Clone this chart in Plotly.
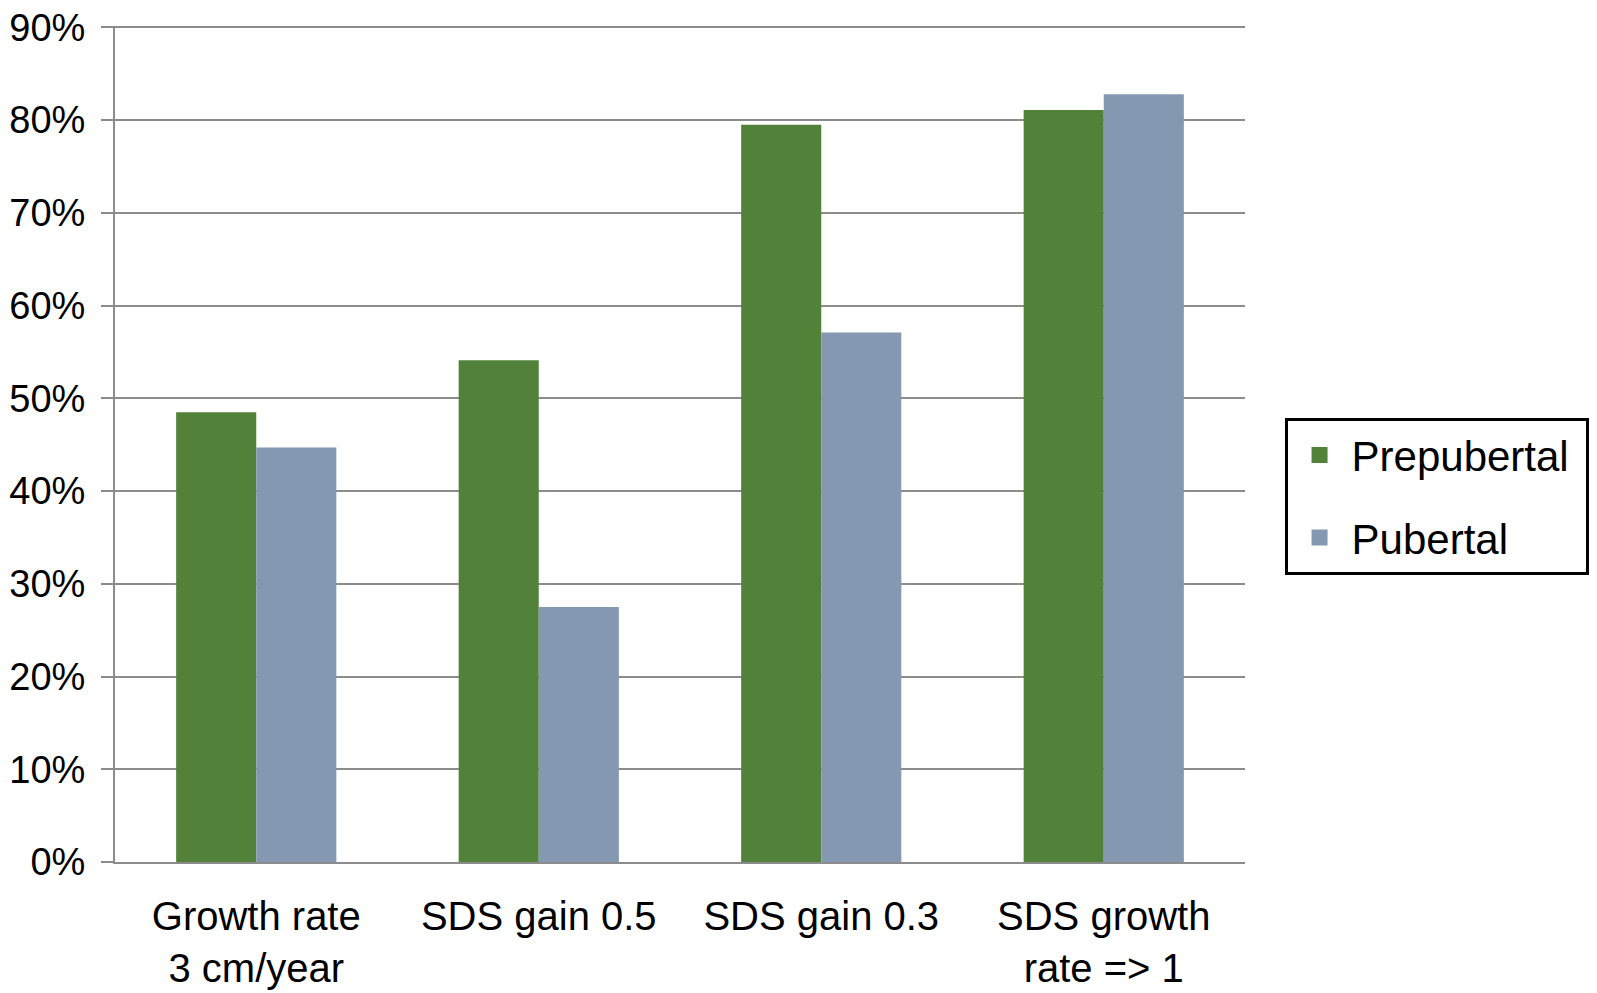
import plotly.graph_objects as go

categories = ["Growth rate<br>3 cm/year", "SDS gain 0.5", "SDS gain 0.3", "SDS growth<br>rate => 1"]
prepubertal = [0.485, 0.541, 0.795, 0.811]
pubertal = [0.447, 0.275, 0.571, 0.828]
tick_vals = [0, 0.1, 0.2, 0.3, 0.4, 0.5, 0.6, 0.7, 0.8, 0.9]
series_names = ["Prepubertal", "Pubertal"]
series_colors = ["#52823A", "#8498B1"]

FONT = "Liberation Sans, Arial, sans-serif"
GRID = "#8C8C8C"
PAD = "\u00a0"  # small trailing pad so the legend box is a bit wider, like the reference

fig = go.Figure()
for name, vals, col in zip(series_names, [prepubertal, pubertal], series_colors):
    fig.add_trace(go.Bar(x=categories, y=vals, name=name, showlegend=False,
                         marker=dict(color=col, line=dict(width=0))))
# legend-only entries with larger square swatches
for i, (name, col) in enumerate(zip(series_names, series_colors)):
    fig.add_trace(go.Scatter(x=[None], y=[None], mode="markers", name=name + PAD,
                             legendgroup=str(i),
                             marker=dict(symbol="square", size=16, color=col)))

fig.update_layout(
    width=1597, height=993,
    paper_bgcolor="white", plot_bgcolor="white",
    margin=dict(l=107, r=360, t=18, b=139, autoexpand=False),
    barmode="group", bargap=0.433, bargroupgap=0,
    font=dict(family=FONT, size=42, color="black"),
    showlegend=True,
    legend=dict(x=1.035, y=0.437, xanchor="left", yanchor="middle",
                bordercolor="black", borderwidth=3, bgcolor="white",
                font=dict(size=42, family=FONT, color="black"),
                tracegroupgap=25, itemwidth=54,
                itemsizing="trace"),
    xaxis=dict(showline=True, linecolor=GRID, linewidth=2, ticks="", showgrid=False,
               automargin=False,
               tickfont=dict(size=40, family=FONT, color="black"),
               ticklabelstandoff=18),
    yaxis=dict(range=[0, 0.9015], tickvals=tick_vals, tickformat=".0%",
               automargin=False, ticklabeloverflow="allow",
               showgrid=True, gridcolor=GRID, gridwidth=2,
               showline=True, linecolor=GRID, linewidth=2,
               ticks="outside", ticklen=12, tickcolor=GRID, tickwidth=2,
               zeroline=False,
               tickfont=dict(size=38, family=FONT, color="black"),
               ticklabelstandoff=8),
)

fig.write_html("out.html")
